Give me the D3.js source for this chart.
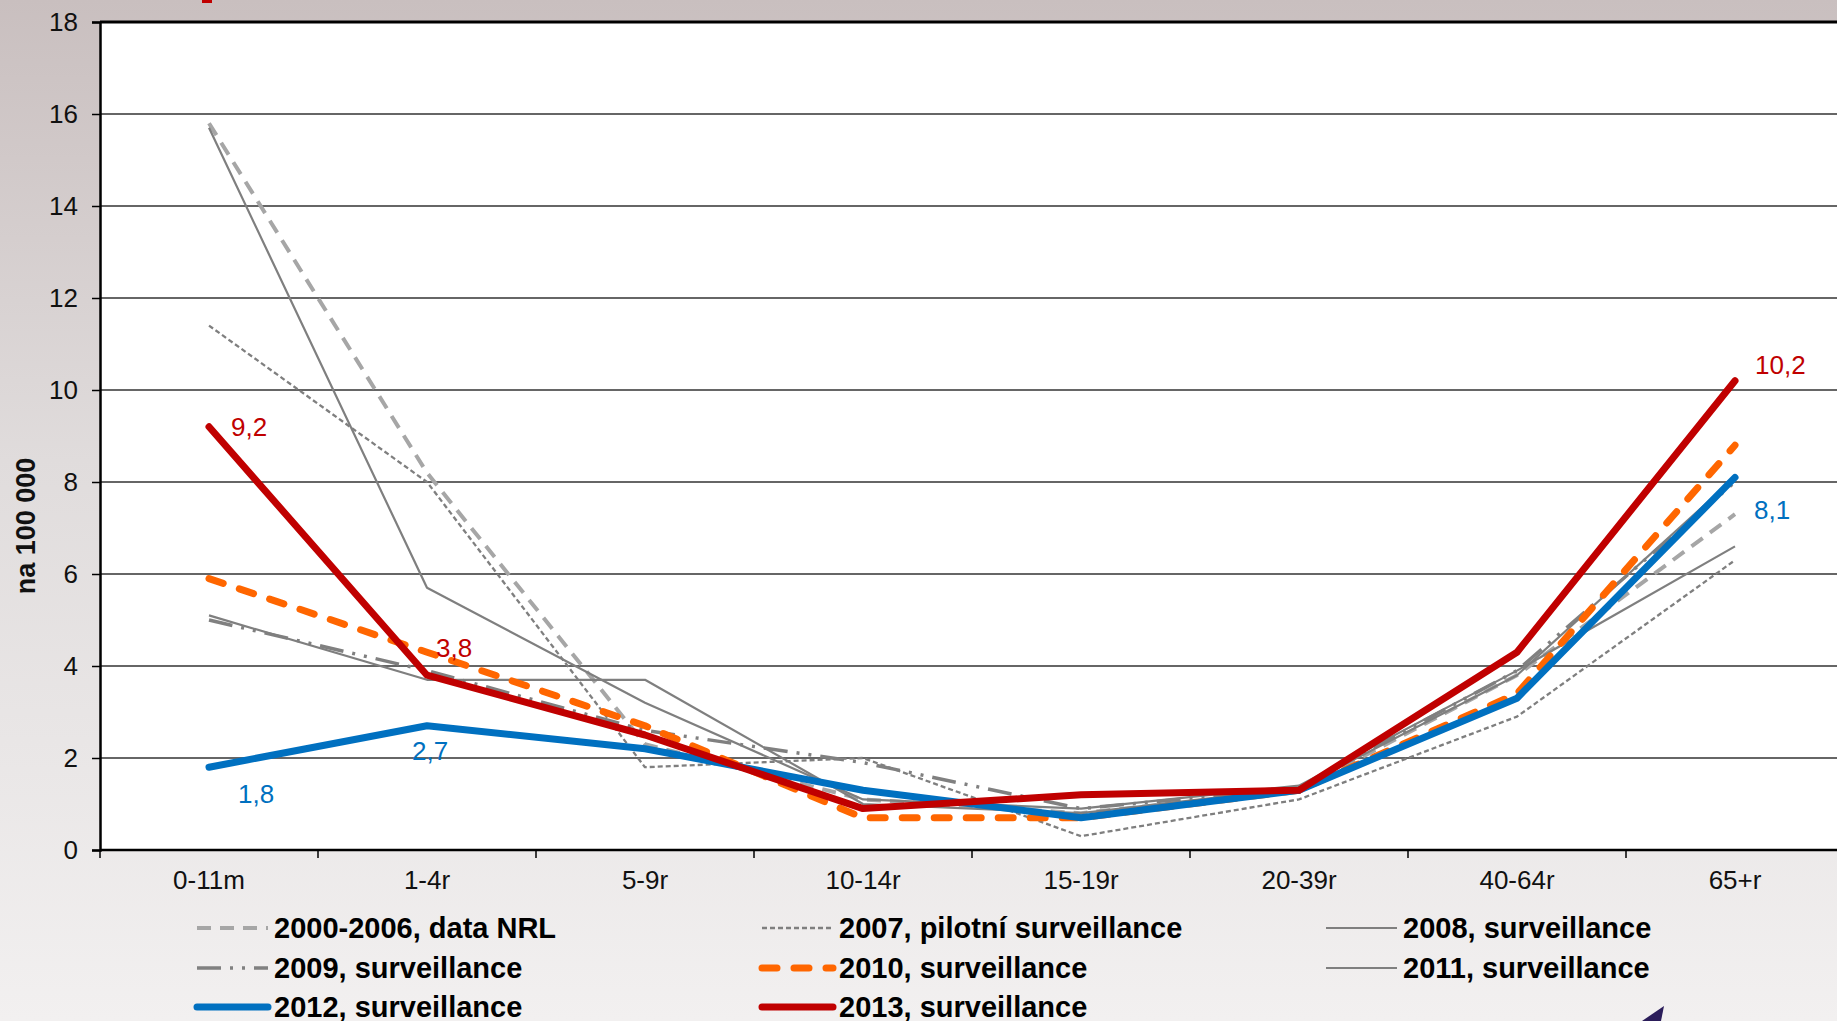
<!DOCTYPE html>
<html>
<head>
<meta charset="utf-8">
<script src="https://cdn.jsdelivr.net/npm/d3@7"></script>
<style>
  body { margin: 0; overflow: hidden; }
  svg { display: block; font-family: "Liberation Sans", Arial, sans-serif; }
</style>
</head>
<body>
<svg width="1837" height="1021"></svg>
<script>
// Incidence by age group, per 100 000

var categories = ["0-11m", "1-4r", "5-9r", "10-14r", "15-19r", "20-39r", "40-64r", "65+r"];
var yTicks = [0, 2, 4, 6, 8, 10, 12, 14, 16, 18];

var s2000_2006 = [15.8, 8.2, 2.3, 1.1, 0.8, 1.3, 3.8, 7.3];
var s2007 = [11.4, 8.0, 1.8, 2.0, 0.3, 1.1, 2.9, 6.3];
var s2008 = [15.7, 5.7, 3.2, 1.1, 0.9, 1.4, 3.9, 6.6];
var s2009 = [5.0, 3.9, 2.6, 1.9, 0.9, 1.35, 3.9, 8.0];
var s2010 = [5.9, 4.3, 2.7, 0.7, 0.7, 1.3, 3.4, 8.8];
var s2011 = [5.1, 3.7, 3.7, 1.0, 0.8, 1.35, 3.8, 8.1];
var s2012 = [1.8, 2.7, 2.2, 1.3, 0.7, 1.3, 3.3, 8.1];
var s2013 = [9.2, 3.8, 2.5, 0.9, 1.2, 1.3, 4.3, 10.2];

var seriesNames = ["2000-2006, data NRL", "2007, pilotní surveillance", "2008, surveillance",
	"2009, surveillance", "2010, surveillance", "2011, surveillance",
	"2012, surveillance", "2013, surveillance"];

// which points get a value label
var labelPoints = [
	{name: "2013, surveillance", i: 0},
	{name: "2013, surveillance", i: 1},
	{name: "2013, surveillance", i: 7},
	{name: "2012, surveillance", i: 0},
	{name: "2012, surveillance", i: 1},
	{name: "2012, surveillance", i: 7}
];

var styles = {
	"2000-2006, data NRL": {color: "#a6a6a6", width: 4, dash: "14,9"},
	"2007, pilotní surveillance": {color: "#7f7f7f", width: 2.3, dash: "5,3"},
	"2008, surveillance": {color: "#7f7f7f", width: 2.2, dash: null},
	"2009, surveillance": {color: "#808080", width: 3.5, dash: "24,9,3,9,3,9"},
	"2010, surveillance": {color: "#ff6600", width: 7, dash: "15,17", cap: "round"},
	"2011, surveillance": {color: "#7f7f7f", width: 2.2, dash: null},
	"2012, surveillance": {color: "#0070c0", width: 7, dash: null, cap: "round"},
	"2013, surveillance": {color: "#c00000", width: 7, dash: null, cap: "round"}
};
// label offsets from the point (px)
var labelOffsets = [[22, 0], [9, -27], [20, -16], [29, 27], [-15, 25], [19, 33]];

var series = [s2000_2006, s2007, s2008, s2009, s2010, s2011, s2012, s2013]
	.map((vals, k) => ({name: seriesNames[k], values: vals}));
var drawOrder = [0, 1, 2, 3, 5, 4, 6, 7];

function draw(){
	var svg = d3.select("svg");
	var W = 1837, H = 1021;
	var plotLeft = 100, plotTop = 22, plotBottom = 850, bandW = 218;

	// background
	var defs = svg.append("defs");
	var grad = defs.append("linearGradient").attr("id", "bg")
		.attr("x1", 0).attr("y1", 0).attr("x2", 0).attr("y2", 1);
	grad.append("stop").attr("offset", "0%").attr("stop-color", "#c9bfbf");
	grad.append("stop").attr("offset", "45%").attr("stop-color", "#e0dcdc");
	grad.append("stop").attr("offset", "100%").attr("stop-color", "#f2f0f0");
	svg.append("rect").attr("width", W).attr("height", H).attr("fill", "url(#bg)");

	// small bits of the slide around the chart
	svg.append("rect").attr("x", 202).attr("y", 0).attr("width", 10).attr("height", 3).attr("fill", "#c00000");
	svg.append("path").attr("d", "M1642,1021 L1664,1006 L1661,1021 Z").attr("fill", "#2b1d5a");

	var x = d3.scaleBand().domain(categories).range([plotLeft, plotLeft + bandW * categories.length]).padding(0);
	var y = d3.scaleLinear().domain([0, 18]).range([plotBottom, plotTop]);
	var cx = c => x(c) + x.bandwidth() / 2;

	// plot area
	svg.append("rect").attr("x", plotLeft).attr("y", plotTop)
		.attr("width", W - plotLeft).attr("height", plotBottom - plotTop).attr("fill", "#fff");

	// gridlines
	svg.append("g").selectAll("line").data(yTicks.filter(t => t > 0)).enter().append("line")
		.attr("x1", plotLeft).attr("x2", W)
		.attr("y1", d => y(d)).attr("y2", d => y(d))
		.attr("stroke", d => d == 18 ? "#000" : "#333")
		.attr("stroke-width", d => d == 18 ? 3 : 1.6);

	// y axis
	var yAxis = svg.append("g").attr("transform", "translate(" + plotLeft + ",0)")
		.call(d3.axisLeft(y).tickValues(yTicks).tickSize(8).tickPadding(14));
	yAxis.select(".domain").attr("stroke", "#000").attr("stroke-width", 2.5);
	yAxis.selectAll(".tick line").attr("stroke", "#000").attr("stroke-width", 1.5);
	yAxis.selectAll("text").attr("font-size", 26).attr("fill", "#111")
		.attr("font-family", "Liberation Sans, Arial, sans-serif");

	// x axis
	var xAxis = svg.append("g").attr("transform", "translate(0," + plotBottom + ")")
		.call(d3.axisBottom(x).tickSize(0).tickPadding(21));
	xAxis.select(".domain").remove();
	xAxis.selectAll("text").attr("font-size", 26).attr("fill", "#111")
		.attr("font-family", "Liberation Sans, Arial, sans-serif");
	svg.append("line").attr("x1", plotLeft).attr("x2", W).attr("y1", plotBottom).attr("y2", plotBottom)
		.attr("stroke", "#000").attr("stroke-width", 2.5);
	svg.append("g").selectAll("line").data(categories).enter().append("line")
		.attr("x1", d => x(d)).attr("x2", d => x(d))
		.attr("y1", plotBottom).attr("y2", plotBottom + 8)
		.attr("stroke", "#000").attr("stroke-width", 1.5);

	// y title
	svg.append("text")
		.attr("transform", "translate(35,526) rotate(-90)")
		.attr("text-anchor", "middle")
		.attr("font-size", 27).attr("font-weight", "bold").attr("fill", "#111")
		.text("na 100 000");

	// lines
	var line = d3.line().x((d, i) => cx(categories[i])).y(d => y(d));
	svg.append("g").selectAll("path").data(drawOrder.map(k => series[k])).enter().append("path")
		.attr("d", s => line(s.values))
		.attr("fill", "none")
		.attr("stroke", s => styles[s.name].color)
		.attr("stroke-width", s => styles[s.name].width)
		.attr("stroke-dasharray", s => styles[s.name].dash)
		.attr("stroke-linecap", s => styles[s.name].cap || "butt")
		.attr("stroke-linejoin", "round");

	// value labels
	var fmt = v => d3.format(".1f")(v).replace(".", ",");
	svg.append("g").selectAll("text").data(labelPoints).enter().append("text")
		.attr("x", (d, k) => cx(categories[d.i]) + labelOffsets[k][0])
		.attr("y", (d, k) => y(series.find(s => s.name == d.name).values[d.i]) + labelOffsets[k][1])
		.attr("dominant-baseline", "central")
		.attr("font-size", 26)
		.attr("fill", d => styles[d.name].color)
		.text(d => fmt(series.find(s => s.name == d.name).values[d.i]));

	// legend
	var colX = [197, 762, 1326], rowY = [928, 968, 1007], sampleW = 71;
	var leg = svg.append("g").selectAll("g").data(series).enter().append("g")
		.attr("transform", (s, k) => "translate(" + colX[k % 3] + "," + rowY[Math.floor(k / 3)] + ")");
	leg.append("line")
		.attr("x1", 0).attr("x2", sampleW).attr("y1", 0).attr("y2", 0)
		.attr("stroke", s => styles[s.name].color)
		.attr("stroke-width", s => styles[s.name].width)
		.attr("stroke-dasharray", s => styles[s.name].dash)
		.attr("stroke-linecap", s => styles[s.name].cap || "butt");
	leg.append("text")
		.attr("x", sampleW + 6).attr("y", 0)
		.attr("dominant-baseline", "central")
		.attr("font-size", 29).attr("font-weight", "bold").attr("fill", "#000")
		.text(s => s.name);
}

draw();
</script>
</body>
</html>
